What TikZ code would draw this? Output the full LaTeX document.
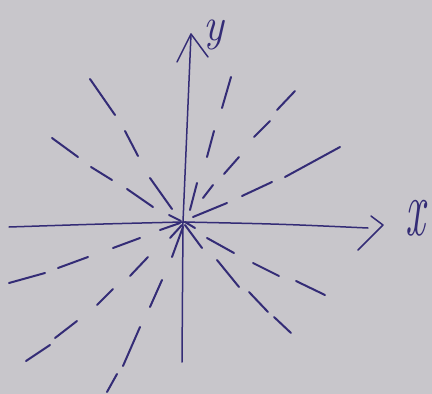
\documentclass[tikz,border=0pt]{standalone}
\usepackage{graphicx}
\definecolor{paper}{RGB}{200,198,203}
\definecolor{ink}{RGB}{52,44,118}
\begin{document}
\begin{tikzpicture}[x=1pt,y=-1pt,
  axisline/.style={draw=ink,line width=1.5pt,line cap=round,line join=round},
  dashpiece/.style={draw=ink,line width=2pt,line cap=round},
  axislabel/.style={text=ink,inner sep=0pt}]
\fill[paper] (0,0) rectangle (432,394);
\useasboundingbox (0,0) rectangle (432,394);
% axes
\coordinate (O) at (183,222);
\coordinate (xl) at (9,227);
\coordinate (xr) at (368,228);
\coordinate (xtip) at (383,225);
\coordinate (xb1) at (371,216);
\coordinate (xb2) at (358,250);
\coordinate (yb) at (182,362);
\coordinate (ytip) at (191,34);
\coordinate (yb1) at (177,62);
\coordinate (yb2) at (208,57);
\draw[axisline] (xl) .. controls (100,224) .. (O) .. controls (280,224) .. (xr);
\draw[axisline] (xb1) -- (xtip) -- (xb2);
\draw[axisline] (yb) -- (O) -- (ytip);
\draw[axisline] (yb1) -- (ytip) -- (yb2);
\node[axislabel] (xlab) at (415,218) {\scalebox{1.1}[2.0]{\fontsize{40}{40}\selectfont\itshape x}};
\node[axislabel] (ylab) at (214,35) {\scalebox{1.2}[1.3]{\fontsize{36}{36}\selectfont\itshape y}};
% dashed radial lines (hand-drawn dashes)
\foreach \p/\q/\r/\s in {
  90/79/115/115, 125/131/138/156, 150/178/172/209,
  52/138/78/157, 91/167/112/180, 127/189/153/207, 169/215/181/221,
  231/77/222/108, 214/131/207/157, 197/183/190/210,
  295/91/277/110, 270/121/254/137, 239/157/224/174, 213/185/203/198,
  340/147/285/177, 272/182/242/196, 227/203/193/217,
  9/283/45/273, 58/268/88/257, 113/248/140/238, 160/230/180/223,
  26/361/50/345, 55/338/77/321, 97/305/113/289, 130/276/148/257, 170/238/182/225,
  107/392/117/374, 123/366/140/327, 150/307/162/280, 172/257/183/227,
  185/222/195/228, 207/238/234/253, 253/263/279/276, 296/281/325/295,
  185/225/202/248, 217/260/239/287, 249/292/268/312, 274/317/291/333}
  \draw[dashpiece] (\p,\q) -- (\r,\s);
\end{tikzpicture}
\end{document}
